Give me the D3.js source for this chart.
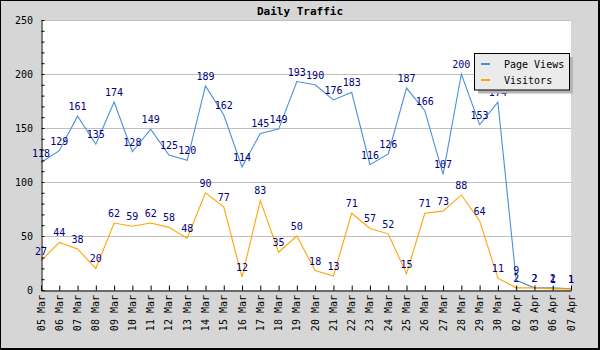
<!DOCTYPE html>
<html>
<head>
<meta charset="utf-8">
<script src="https://cdn.jsdelivr.net/npm/d3@7"></script>
<style>
  html, body { margin: 0; padding: 0; background: #fff; }
  svg { display: block; }
  text { font-family: "DejaVu Sans Mono", monospace; }
</style>
</head>
<body>
<svg id="chart" width="600" height="350"></svg>
<script>
const title = "Daily Traffic";
const categories = ["05 Mar","06 Mar","07 Mar","08 Mar","09 Mar","10 Mar","11 Mar","12 Mar","13 Mar","14 Mar",
  "15 Mar","16 Mar","17 Mar","18 Mar","19 Mar","20 Mar","21 Mar","22 Mar","23 Mar","24 Mar",
  "25 Mar","26 Mar","27 Mar","28 Mar","29 Mar","30 Mar","02 Apr","03 Apr","06 Apr","07 Apr"];
const pageViews = [118,129,161,135,174,128,149,125,120,189,162,114,145,149,193,190,176,183,116,126,187,166,107,200,153,174,9,2,2,1];
const visitors  = [27,44,38,20,62,59,62,58,48,90,77,12,83,35,50,18,13,71,57,52,15,71,73,88,64,11,2,2,1,1];
const seriesNames = ["Page Views", "Visitors"];
const yTicks = [0,50,100,150,200,250];

(function () {
const colors = ["#4a8fdb", "#ffa500"];
const svg = d3.select("#chart");
const W = 600, H = 350;
const pL = 41, pR = 571, pT = 20, pB = 290;

// frame
svg.append("rect").attr("x",0).attr("y",0).attr("width",W).attr("height",H).attr("fill","#000");
svg.append("rect").attr("x",1).attr("y",1).attr("width",W-3).attr("height",H-3).attr("fill","#d6d6d6");
svg.append("rect").attr("x",pL).attr("y",pT).attr("width",pR-pL).attr("height",pB-pT).attr("fill","#fff");

svg.append("text").attr("x",300).attr("y",15).attr("text-anchor","middle")
  .attr("font-size","11px").attr("font-weight","bold").attr("fill","#000").text(title);

const x = d3.scalePoint().domain(categories).range([pL, pR]).padding(0);
const y = d3.scaleLinear().domain([0,250]).range([pB, pT]);

// grid
svg.append("g").selectAll("line").data(yTicks.filter(d => d > 0)).join("line")
  .attr("x1",pL).attr("x2",pR)
  .attr("y1",d => Math.round(y(d)) + 0.5).attr("y2",d => Math.round(y(d)) + 0.5)
  .attr("stroke","#c0c0c0").attr("stroke-width",1);

// lines
const series = [pageViews, visitors];
const line = d3.line().x((d,i) => x(categories[i])).y(d => y(d));
series.forEach((s, k) => {
  svg.append("path").datum(s).attr("d", line)
    .attr("fill","none").attr("stroke",colors[k]).attr("stroke-width",1.1);
});

// value labels
series.forEach((s, k) => {
  svg.append("g").selectAll("text").data(s).join("text")
    .attr("x",(d,i) => x(categories[i]))
    .attr("y",d => y(d) - 6)
    .attr("text-anchor","middle")
    .attr("font-size","10px").attr("fill","#000080")
    .text(d => d);
});

// y axis
const yAxis = d3.axisLeft(y).tickValues(d3.range(0,251,10)).tickSize(-3).tickSizeOuter(0).tickPadding(8.5)
  .tickFormat(d => d % 50 === 0 ? d : "");
const gy = svg.append("g").attr("transform",`translate(${pL + 0.5},0)`).call(yAxis);
gy.selectAll("text").attr("font-size","10px").attr("fill","#000").attr("font-family","DejaVu Sans Mono, monospace");
gy.selectAll("line, path").attr("stroke","#000");

// x axis
const xAxis = d3.axisBottom(x).tickSize(-5).tickSizeOuter(0).tickFormat("");
const gx = svg.append("g").attr("transform",`translate(0,${pB + 0.5})`).call(xAxis);
gx.selectAll("line, path").attr("stroke","#000");

svg.append("g").selectAll("text").data(categories).join("text")
  .attr("transform", d => `translate(${x(d)},295) rotate(-90)`)
  .attr("text-anchor","end").attr("dy","0.35em")
  .attr("font-size","10px").attr("fill","#000")
  .text(d => d);

// legend
const lg = svg.append("g");
lg.append("rect").attr("x",478).attr("y",57).attr("width",95).attr("height",36.5).attr("fill","#b4b4b4");
lg.append("rect").attr("x",474.5).attr("y",53.5).attr("width",95).attr("height",36.5)
  .attr("fill","#ebebeb").attr("stroke","#000").attr("stroke-width",1);
seriesNames.forEach((n, k) => {
  const yy = 64 + k * 16;
  lg.append("line").attr("x1",481).attr("x2",490).attr("y1",yy).attr("y2",yy)
    .attr("stroke",colors[k]).attr("stroke-width",2);
  lg.append("text").attr("x",504).attr("y",yy + 3.5).attr("font-size","10px").attr("fill","#000").text(n);
});
})();
</script>
</body>
</html>
